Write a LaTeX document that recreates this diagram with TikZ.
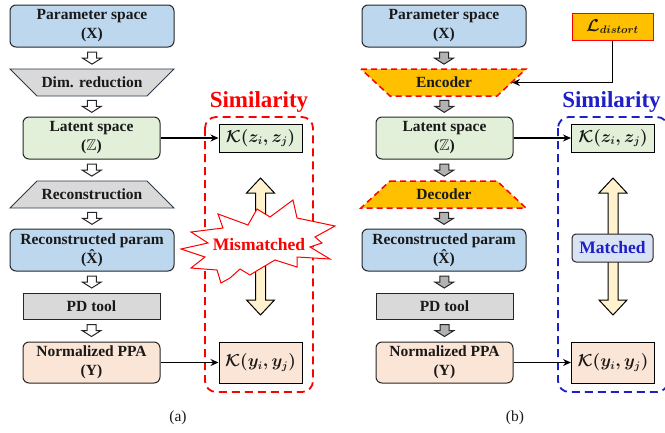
\documentclass[tikz,border=0pt]{standalone}
\usepackage{amsmath,amssymb,bm}
\usepackage{fontspec}
\setmainfont{Liberation Serif}
\usetikzlibrary{calc,arrows.meta}

\definecolor{pblue}{HTML}{BDD7EE}
\definecolor{lgreen}{HTML}{E2F0D9}
\definecolor{peach}{HTML}{FBE5D6}
\definecolor{lgray}{HTML}{D9D9D9}
\definecolor{gold}{HTML}{FFC000}
\definecolor{cream}{HTML}{FFF2CC}
\definecolor{mblue}{HTML}{DAE3F3}
\definecolor{simblue}{HTML}{1F1FC8}
\definecolor{edge}{HTML}{262626}
\definecolor{slate}{HTML}{2A3A4A}

\newcommand\boxfont{\fontsize{15.5}{19}\selectfont\bfseries}
\newcommand\mathfont{\fontsize{16}{19}\selectfont\boldmath}

\tikzset{
  blk/.style={draw=edge, line width=1pt, align=center, inner sep=0pt},
  rbox/.style={blk, rounded corners=6pt},
  kbox/.style={blk, draw=black, minimum width=83pt, font=\mathfont},
  trap/.style={draw=slate, line width=0.8pt, fill=lgray},
  dtrap/.style={draw=red, line width=1.5pt, dash pattern=on 6pt off 4pt, fill=gold},
  conn/.style={line width=1.6pt, -{Stealth[length=8pt,width=7pt]}},
  simbox/.style={line width=1.8pt, dash pattern=on 8pt off 5pt, rounded corners=11pt},
  dblarr/.style={draw=black, line width=1pt, fill=cream},
  pics/downblk/.style={code={
    \draw[line width=1pt, draw=edge, fill=#1] (-4.5,-6) -- (4.5,-6) -- (4.5,0) -- (9.5,0)
      -- (0,6) -- (-9.5,0) -- (-4.5,0) -- cycle;}}
}

\begin{document}
\begin{tikzpicture}[x=1pt, y=-1pt, every node/.style={font=\boxfont, text=black!90}]
\useasboundingbox (0,0) rectangle (665,432);

% ---------- (a) ----------
\node[rbox, fill=pblue, minimum width=164pt, minimum height=42pt] (aX) at (92,26) {Parameter space\\(X)};
\draw[trap] (10,69) -- (174,69) -- (147,96) -- (37,96) -- cycle;
\node[inner sep=0pt, minimum height=27pt] (adim) at (92,82.5) {Dim. reduction};
\node[rbox, fill=lgreen, minimum width=137pt, minimum height=42pt] (aZ) at (91.5,138) {Latent space\\($\mathbb{Z}$)};
\draw[trap] (37,181) -- (147,181) -- (174,208) -- (10,208) -- cycle;
\node[inner sep=0pt, minimum height=27pt] (arec) at (92,194.5) {Reconstruction};
\node[rbox, fill=pblue, minimum width=164pt, minimum height=42pt] (aXh) at (92,250) {Reconstructed param\\(\^{X})};
\node[blk, fill=lgray, minimum width=137pt, minimum height=26pt] (apd) at (91.5,306) {PD tool};
\node[rbox, fill=peach, minimum width=137pt, minimum height=41pt] (aY) at (91.5,362.5) {Normalized PPA\\(Y)};

\foreach \u/\v in {aX/adim, adim/aZ, aZ/arec, arec/aXh, aXh/apd, apd/aY}
  \pic at ($(\u.south)!0.5!(\v.north)$) {downblk=white};

\draw[simbox, draw=red] (205,117) rectangle (313,392);
\node[text=red, font=\fontsize{23}{26}\selectfont\bfseries] (asim) at (259,102) {Similarity};
\node[kbox, fill=lgreen, minimum height=28pt] (aKz) at (260.5,138) {$\mathcal{K}(z_i,z_j)$};
\node[kbox, fill=peach, minimum height=41pt] (aKy) at (260.5,362.5) {$\mathcal{K}(y_i,y_j)$};
\draw[conn] (aZ.east) -- (aKz.west);
\draw[conn] (aY.east) -- (aKy.west);

\draw[dblarr, shift={(260.5,0)}] (0,178) -- (14,193) -- (5,193) -- (5,300) -- (14,300) -- (0,315)
  -- (-14,300) -- (-5,300) -- (-5,193) -- (-14,193) -- cycle;
\draw[draw=red, line width=1pt, fill=white] (181,249) -- (208,243) -- (191,232) -- (223,228) -- (218,214)
  -- (248,225) -- (257,209) -- (270,217) -- (293,200) -- (297,218) -- (335,226) -- (315,237)
  -- (322,243) -- (310,247) -- (330,259) -- (297,257) -- (297,267) -- (275,260) -- (258,270)
  -- (250,275) -- (240,269) -- (230,278) -- (221,283) -- (217,270) -- (191,268) -- (205,257) -- cycle;
\node[text=red, font=\fontsize{17.5}{20}\selectfont\bfseries] (amis) at (259,245) {Mismatched};

\node[font=\fontsize{15.5}{19}\selectfont] (alab) at (178,418) {(a)};

% ---------- (b) ----------
\node[rbox, fill=pblue, minimum width=164pt, minimum height=42pt] (bX) at (444,26) {Parameter space\\(X)};
\draw[dtrap] (361,69) -- (526,69) -- (497,96) -- (390,96) -- cycle;
\node[inner sep=0pt, minimum height=27pt] (benc) at (444,82.5) {Encoder};
\coordinate (bencR) at (512,82.5);
\node[rbox, fill=lgreen, minimum width=137pt, minimum height=42pt] (bZ) at (444.5,138) {Latent space\\($\mathbb{Z}$)};
\draw[dtrap] (390,181) -- (497,181) -- (526,208) -- (361,208) -- cycle;
\node[inner sep=0pt, minimum height=27pt] (bdec) at (444,194.5) {Decoder};
\node[rbox, fill=pblue, minimum width=164pt, minimum height=42pt] (bXh) at (444,250) {Reconstructed param\\(\^{X})};
\node[blk, fill=lgray, minimum width=137pt, minimum height=26pt] (bpd) at (444.5,306) {PD tool};
\node[rbox, fill=peach, minimum width=137pt, minimum height=41pt] (bY) at (444.5,362.5) {Normalized PPA\\(Y)};

\foreach \u/\v in {bX/benc, benc/bZ, bZ/bdec, bdec/bXh, bXh/bpd, bpd/bY}
  \pic at ($(\u.south)!0.5!(\v.north)$) {downblk=black!30};

\node[blk, draw=red, fill=gold, minimum width=81pt, minimum height=27pt, font=\mathfont] (bL) at (612.5,26.5) {$\mathcal{L}_{distort}$};
\draw[conn] (bL.south) |- (bencR);

\draw[simbox, draw=simblue] (558,117) rectangle (668,392);
\node[text=simblue, font=\fontsize{23}{26}\selectfont\bfseries] (bsim) at (611.5,102) {Similarity};
\node[kbox, fill=lgreen, minimum height=28pt] (bKz) at (613,138) {$\mathcal{K}(z_i,z_j)$};
\node[kbox, fill=peach, minimum height=41pt] (bKy) at (613,362.5) {$\mathcal{K}(y_i,y_j)$};
\draw[conn] (bZ.east) -- (bKz.west);
\draw[conn] (bY.east) -- (bKy.west);

\draw[dblarr, shift={(613,0)}] (0,178) -- (14,193) -- (5,193) -- (5,300) -- (14,300) -- (0,315)
  -- (-14,300) -- (-5,300) -- (-5,193) -- (-14,193) -- cycle;
\node[rbox, fill=mblue, rounded corners=4pt, minimum width=81pt, minimum height=28pt, text=simblue, font=\fontsize{17.5}{20}\selectfont\bfseries] (bmat) at (612.5,248) {Matched};

\node[font=\fontsize{15.5}{19}\selectfont] (blab) at (515,418) {(b)};
\end{tikzpicture}
\end{document}
